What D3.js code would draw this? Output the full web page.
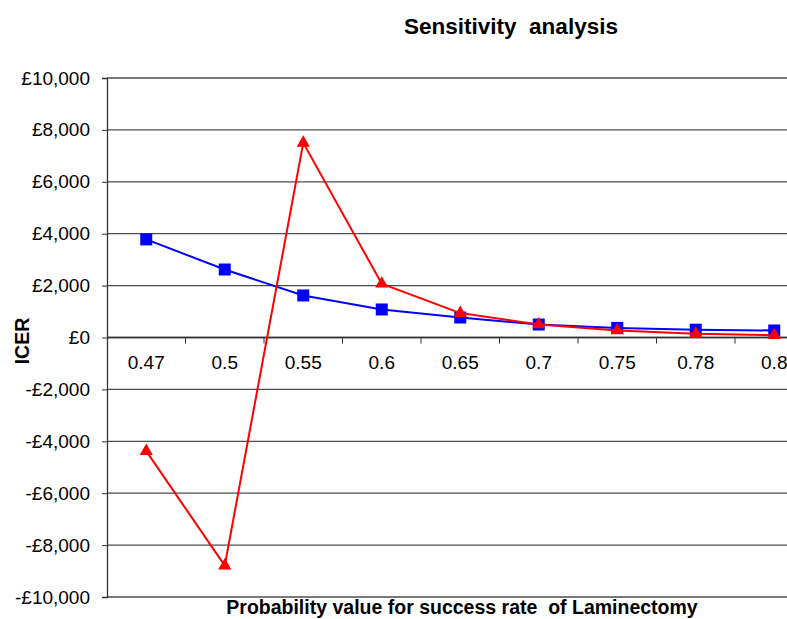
<!DOCTYPE html>
<html lang="en">
<head>
    <meta charset="UTF-8">
    <title>Sensitivity analysis</title>
    <script src="https://d3js.org/d3.v7.min.js"></script>
    <style>
        body { margin: 0; background: #fff; }
        text { font-family: "Liberation Sans", Arial, sans-serif; }
    </style>
</head>
<body>
    <script>
        let width = 787;
        let height = 619;

        // data
        let categories = ["0.47", "0.5", "0.55", "0.6", "0.65", "0.7", "0.75", "0.78", "0.8"];
        let blueValues = [3780, 2620, 1620, 1080, 770, 500, 370, 300, 270];
        let redValues = [-4380, -8790, 7500, 2070, 940, 500, 270, 140, 90];
        let yTicks = [10000, 8000, 6000, 4000, 2000, 0, -2000, -4000, -6000, -8000, -10000];

        let svg = d3.select("body")
            .append("svg")
            .attr("width", width)
            .attr("height", height);

        let plotLeft = 107, plotRight = 813.5, plotTop = 78, plotBottom = 597;

        let x = d3.scaleBand()
            .domain(categories)
            .range([plotLeft, plotRight]);

        let y = d3.scaleLinear()
            .domain([-10000, 10000])
            .range([plotBottom, plotTop]);

        let fmt = v => (v < 0 ? "-" : "") + "£" + d3.format(",")(Math.abs(v));

        // gridlines
        svg.append("g")
            .selectAll("line")
            .data(yTicks)
            .enter()
            .append("line")
            .attr("x1", plotLeft)
            .attr("x2", plotRight)
            .attr("y1", d => y(d))
            .attr("y2", d => y(d))
            .style("stroke", "#4d4d4d")
            .style("stroke-width", 1.3);

        // y axis
        let yAxis = svg.append("g")
            .attr("transform", `translate(${plotLeft},0)`)
            .call(d3.axisLeft(y).tickValues(yTicks).tickFormat(fmt).tickSize(5).tickPadding(12));
        yAxis.select(".domain").style("stroke", "#333").style("stroke-width", 1.3);
        yAxis.selectAll("line").style("stroke", "#333");
        yAxis.selectAll("text")
            .style("font-size", "19px")
            .style("fill", "#000");

        // x axis at zero, ticks between categories
        let xg = svg.append("g");
        xg.append("line")
            .attr("x1", plotLeft).attr("x2", plotRight)
            .attr("y1", y(0)).attr("y2", y(0))
            .style("stroke", "#333").style("stroke-width", 1.3);
        xg.selectAll(".tk")
            .data(categories)
            .enter()
            .append("line")
            .attr("x1", d => x(d) + x.step())
            .attr("x2", d => x(d) + x.step())
            .attr("y1", y(0))
            .attr("y2", y(0) + 6)
            .style("stroke", "#333");
        xg.selectAll("text")
            .data(categories)
            .enter()
            .append("text")
            .attr("x", d => x(d) + x.bandwidth() / 2)
            .attr("y", y(0) + 31)
            .attr("text-anchor", "middle")
            .style("font-size", "19px")
            .text(d => d);

        let cx = d => x(d) + x.bandwidth() / 2;
        let line = d3.line()
            .x((d, i) => cx(categories[i]))
            .y(d => y(d));

        // blue series
        svg.append("path")
            .datum(blueValues)
            .attr("d", line)
            .style("fill", "none")
            .style("stroke", "#0000ff")
            .style("stroke-width", 2);
        svg.selectAll(".sq")
            .data(blueValues)
            .enter()
            .append("rect")
            .attr("x", (d, i) => cx(categories[i]) - 6)
            .attr("y", d => y(d) - 6)
            .attr("width", 12)
            .attr("height", 12)
            .style("fill", "#0000ff");

        // red series
        svg.append("path")
            .datum(redValues)
            .attr("d", line)
            .style("fill", "none")
            .style("stroke", "#ff0000")
            .style("stroke-width", 2);
        svg.selectAll(".tri")
            .data(redValues)
            .enter()
            .append("path")
            .attr("d", d3.symbol().type(d3.symbolTriangle).size(75))
            .attr("transform", (d, i) => `translate(${cx(categories[i])},${y(d)})`)
            .style("fill", "#ff0000");

        // title and axis labels
        svg.append("text")
            .attr("x", 511)
            .attr("y", 34)
            .attr("text-anchor", "middle")
            .style("font-size", "22.5px")
            .style("font-weight", "bold")
            .text("Sensitivity\u00a0 analysis");

        svg.append("text")
            .attr("transform", `translate(29,341) rotate(-90)`)
            .attr("text-anchor", "middle")
            .style("font-size", "19.5px")
            .style("font-weight", "bold")
            .text("ICER");

        svg.append("text")
            .attr("x", 462)
            .attr("y", 614)
            .attr("text-anchor", "middle")
            .style("font-size", "19.5px")
            .style("font-weight", "bold")
            .text("Probability value for success\u00a0rate\u00a0 of Laminectomy");
    </script>
</body>
</html>
